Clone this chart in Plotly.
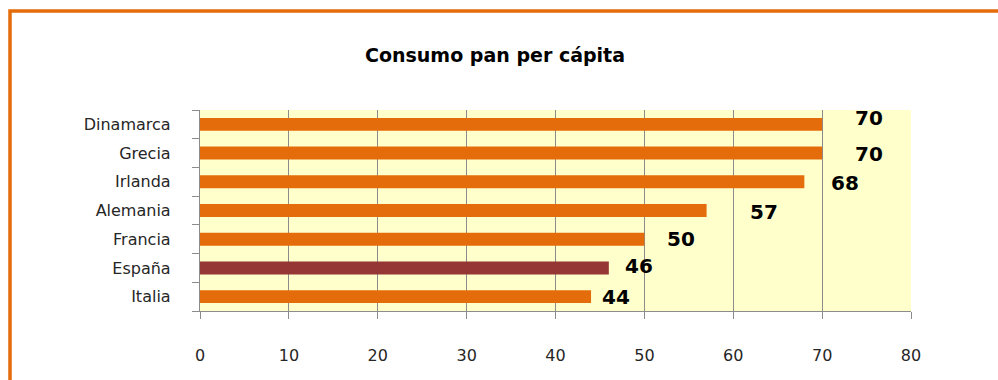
import plotly.graph_objects as go

categories = ["Italia", "España", "Francia", "Alemania", "Irlanda", "Grecia", "Dinamarca"]
values = [44, 46, 50, 57, 68, 70, 70]
bar_colors = ["#E46C0A", "#953735", "#E46C0A", "#E46C0A", "#E46C0A", "#E46C0A", "#E46C0A"]
# hand-placed data label offsets (pixels) as in the original
label_xshift = [9, 14, 21, 41, 25, 31, 31]
label_yshift = [0, 2, 0, -1, -1, -1, 6]
x_ticks = [0, 10, 20, 30, 40, 50, 60, 70, 80]

W, H = 998, 380
L, R, T, B = 200, 87, 110, 69
FONT = "DejaVu Sans, Open Sans, sans-serif"

fig = go.Figure()
fig.add_trace(go.Bar(
    y=categories, x=values, orientation="h",
    marker=dict(color=bar_colors, line=dict(width=0)),
    width=0.45, hoverinfo="x+y",
))

for c, v, dx, dy in zip(categories, values, label_xshift, label_yshift):
    fig.add_annotation(x=v, y=c, text=f"<b>{v}</b>", showarrow=False,
                       xanchor="left", yanchor="middle", xshift=dx, yshift=dy,
                       font=dict(family=FONT, size=20, color="#000000"))

pw, ph = W - L - R, H - T - B
fig.add_shape(type="rect", xref="paper", yref="paper",
              x0=(10 - L) / pw, x1=(W + 20 - L) / pw,
              y0=-(B + 30) / ph, y1=(H - B - 11) / ph,
              line=dict(color="#E46C0A", width=3.5), fillcolor="rgba(0,0,0,0)", layer="above")

fig.update_layout(
    width=W, height=H,
    margin=dict(l=L, r=R, t=T, b=B, pad=0),
    paper_bgcolor="white", plot_bgcolor="#FFFFCC",
    showlegend=False,
    title=dict(text="<b>Consumo pan per cápita</b>", x=0.496, xanchor="center",
               y=1 - 55 / H, yanchor="middle",
               font=dict(family=FONT, size=19, color="#000000")),
    font=dict(family=FONT, size=16, color="#262626"),
)
fig.update_xaxes(range=[0, 80], tickvals=x_ticks, showgrid=True, gridcolor="#8C8C8C", gridwidth=1.3,
                 ticks="outside", ticklen=7, tickcolor="#8C8C8C", tickwidth=1.3,
                 showline=True, linecolor="#8C8C8C", linewidth=1.3, zeroline=False,
                 ticklabelstandoff=23, tickfont=dict(family=FONT, size=16, color="#262626"),
                 fixedrange=True)
fig.update_yaxes(categoryorder="array", categoryarray=categories, range=[-0.5, len(categories) - 0.5],
                 tickson="boundaries",
                 ticks="outside", ticklen=7, tickcolor="#8C8C8C", tickwidth=1.3,
                 showline=True, linecolor="#8C8C8C", linewidth=1.3, showgrid=False,
                 ticklabelstandoff=25, tickfont=dict(family=FONT, size=16, color="#262626"),
                 fixedrange=True)

fig.write_html("out.html")
